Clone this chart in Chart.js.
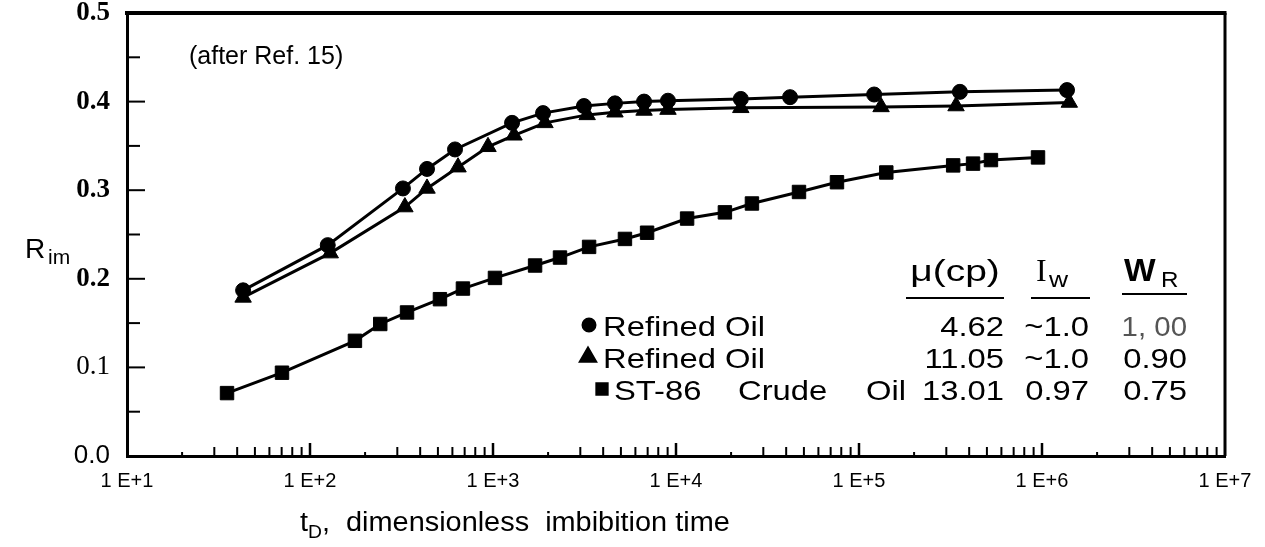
<!DOCTYPE html>
<html>
<head>
<meta charset="utf-8">
<script src="https://cdn.jsdelivr.net/npm/chart.js@4.4.1/dist/chart.umd.min.js"></script>
<style>
  html, body { margin: 0; padding: 0; background: #fff; }
  #wrap { width: 1265px; height: 547px; position: relative; }
</style>
</head>
<body>
<div id="wrap"><canvas id="chart" width="1265" height="547"></canvas></div>
<script>
// Refined oil, mu = 4.62 cp (circles)
const refinedA_t = [43.1, 125, 322, 436, 620, 1271, 1877, 3140, 4640, 6690, 9040, 22600, 42000, 121000, 356000, 1370000];
const refinedA_R = [0.187, 0.238, 0.302, 0.324, 0.346, 0.376, 0.387, 0.395, 0.398, 0.400, 0.401, 0.403, 0.405, 0.408, 0.411, 0.413];

// Refined oil, mu = 11.05 cp (triangles)
const refinedB_t = [43.1, 129, 330, 436, 644, 939, 1303, 1923, 3270, 4640, 6690, 9040, 22600, 132000, 339000, 1410000];
const refinedB_R = [0.179, 0.229, 0.281, 0.302, 0.326, 0.349, 0.362, 0.376, 0.385, 0.388, 0.390, 0.391, 0.393, 0.394, 0.395, 0.399];

// ST-86 crude oil, mu = 13.01 cp (squares)
const crude_t = [35.2, 70.3, 176, 242, 339, 513, 685, 1025, 1698, 2323, 3350, 5260, 6950, 11500, 18500, 26000, 47000, 75800, 141000, 327000, 420000, 526000, 951000];
const crude_R = [0.071, 0.094, 0.130, 0.149, 0.162, 0.177, 0.189, 0.201, 0.215, 0.224, 0.236, 0.245, 0.252, 0.268, 0.275, 0.285, 0.298, 0.309, 0.320, 0.328, 0.330, 0.334, 0.337];

// Axis ticks
const xTickValues = [1e1, 1e2, 1e3, 1e4, 1e5, 1e6, 1e7];
const xTickLabels = ['1 E+1', '1 E+2', '1 E+3', '1 E+4', '1 E+5', '1 E+6', '1 E+7'];
const yTickValues = [0.0, 0.1, 0.2, 0.3, 0.4, 0.5];
const yTickLabels = ['0.0', '0.1', '0.2', '0.3', '0.4', '0.5'];
const yMinorTicks = [0.05, 0.15, 0.25, 0.35, 0.45];

// Property table
const legendStyles = ['circle', 'triangle', 'rect'];
const legendWords = [['Refined Oil'], ['Refined Oil'], ['ST-86', 'Crude', 'Oil']];
const colViscosity = ['4.62', '11.05', '13.01'];
const colIw = ['~1.0', '~1.0', '0.97'];
const colWR = ['1, 00', '0.90', '0.75'];

const toPoints = (xs, ys) => xs.map((x, i) => ({ x: x, y: ys[i] }));

function drawText(ctx, s, x, y, font, align, sx) {
  ctx.save();
  ctx.font = font;
  ctx.textBaseline = 'alphabetic';
  ctx.textAlign = 'left';
  const w = ctx.measureText(s).width * (sx || 1);
  let x0 = x;
  if (align === 'right') x0 = x - w;
  else if (align === 'center') x0 = x - w / 2;
  ctx.translate(x0, y);
  ctx.scale(sx || 1, 1);
  ctx.fillText(s, 0, 0);
  ctx.restore();
  return w;
}

const framePlugin = {
  id: 'frame',
  afterDatasetsDraw(chart) {
    const { ctx, chartArea: a, scales } = chart;
    const xs = scales.x, ys = scales.y;
    ctx.save();
    ctx.strokeStyle = '#000';
    ctx.fillStyle = '#000';
    ctx.lineCap = 'butt';

    // top and right edges of the box
    ctx.lineWidth = 4;
    ctx.beginPath();
    ctx.moveTo(a.left - 2, a.top);
    ctx.lineTo(a.right + 1.5, a.top);
    ctx.stroke();
    ctx.lineWidth = 3;
    ctx.beginPath();
    ctx.moveTo(a.right, a.top);
    ctx.lineTo(a.right, a.bottom);
    ctx.stroke();

    // inward ticks on the y axis
    ctx.lineWidth = 2;
    yTickValues.forEach(v => {
      if (v <= 0 || v >= 0.5) return;
      const py = ys.getPixelForValue(v);
      ctx.beginPath(); ctx.moveTo(a.left, py); ctx.lineTo(a.left + 18, py); ctx.stroke();
    });
    yMinorTicks.forEach(v => {
      const py = ys.getPixelForValue(v);
      ctx.beginPath(); ctx.moveTo(a.left, py); ctx.lineTo(a.left + 13, py); ctx.stroke();
    });

    // inward ticks on the logarithmic x axis
    for (let d = 1e1; d < 1e7; d *= 10) {
      for (let k = 1; k <= 9; k++) {
        const v = d * k;
        if (v <= 10) continue;
        const px = xs.getPixelForValue(v);
        const len = k === 1 ? 13 : (k === 2 ? 4 : 9);
        ctx.lineWidth = k === 1 ? 2.5 : 2;
        ctx.beginPath(); ctx.moveTo(px, a.bottom); ctx.lineTo(px, a.bottom - len); ctx.stroke();
      }
    }

    // annotation
    drawText(ctx, '(after Ref. 15)', 189, 64, '25px "Liberation Sans"', 'left', 1.0);

    // property table header
    drawText(ctx, '\u03BC(cp)', 955, 281, '30px "Liberation Sans"', 'center', 1.3);
    drawText(ctx, 'I', 1036, 281, '32px "Liberation Serif"', 'left', 1.0);
    drawText(ctx, 'w', 1049, 287, '22px "Liberation Sans"', 'left', 1.2);
    drawText(ctx, 'W', 1124, 281, 'bold 31px "Liberation Sans"', 'left', 1.08);
    drawText(ctx, 'R', 1161, 287, '22px "Liberation Sans"', 'left', 1.1);
    ctx.lineWidth = 2;
    [[906, 1004, 298], [1031, 1090, 298], [1122, 1187, 294]].forEach(([x1, x2, y]) => {
      ctx.beginPath(); ctx.moveTo(x1, y); ctx.lineTo(x2, y); ctx.stroke();
    });

    // property table rows
    const rowY = [336, 368, 400];
    const rf = '28px "Liberation Sans"';
    const markX = [589, 588, 602];
    const markR = [6.5, 9.5, 8];
    const wordX = [[603], [603], [614, 738, 866]];
    for (let i = 0; i < 3; i++) {
      Chart.helpers.drawPoint(ctx, { pointStyle: legendStyles[i], radius: markR[i], borderWidth: 1, rotation: 0 }, markX[i], rowY[i] - 11);
      ctx.fill();
      legendWords[i].forEach((w, j) => drawText(ctx, w, wordX[i][j], rowY[i], rf, 'left', 1.17));
      drawText(ctx, colViscosity[i], 1004, rowY[i], rf, 'right', 1.17);
      drawText(ctx, colIw[i], 1089, rowY[i], rf, 'right', 1.17);
      ctx.fillStyle = i === 0 ? '#555' : '#000';
      drawText(ctx, colWR[i], 1187, rowY[i], i === 0 ? '28px "Liberation Sans Narrow", "Liberation Sans"' : rf, 'right', i === 0 ? 1.05 : 1.17);
      ctx.fillStyle = '#000';
    }

    // axis titles
    drawText(ctx, 'R', 25, 258, '28px "Liberation Sans"', 'left', 1.0);
    drawText(ctx, 'im', 48, 264, '21px "Liberation Sans"', 'left', 1.0);
    let tx = 300;
    tx += drawText(ctx, 't', tx, 531, '27px "Liberation Sans"', 'left', 1.07);
    tx += drawText(ctx, 'D', tx, 538, '18px "Liberation Sans"', 'left', 1.07);
    drawText(ctx, ',  dimensionless  imbibition time', tx, 531, '27px "Liberation Sans"', 'left', 1.07);
    ctx.restore();
  }
};

const lineStyle = { borderColor: '#000', backgroundColor: '#000', borderWidth: 3, pointBorderWidth: 1, pointBackgroundColor: '#000', pointBorderColor: '#000', tension: 0, fill: false, clip: false };

new Chart(document.getElementById('chart'), {
  type: 'line',
  data: {
    datasets: [
      Object.assign({ label: 'Refined Oil (4.62 cp)', data: toPoints(refinedA_t, refinedA_R), pointStyle: 'circle', pointRadius: 7.5 }, lineStyle),
      Object.assign({ label: 'Refined Oil (11.05 cp)', data: toPoints(refinedB_t, refinedB_R), pointStyle: 'triangle', pointRadius: 9.5 }, lineStyle),
      Object.assign({ label: 'ST-86 Crude Oil (13.01 cp)', data: toPoints(crude_t, crude_R), pointStyle: 'rect', pointRadius: 9.5 }, lineStyle)
    ]
  },
  options: {
    responsive: false,
    animation: false,
    devicePixelRatio: 1,
    layout: { padding: { top: 13, right: 40, left: 0, bottom: 0 } },
    plugins: { legend: { display: false }, tooltip: { enabled: false } },
    scales: {
      x: {
        type: 'logarithmic',
        min: 10, max: 1e7,
        afterBuildTicks: s => { s.ticks = xTickValues.map(v => ({ value: v })); },
        afterFit: s => { s.height = 91; s.paddingLeft = 0; s.paddingRight = 0; },
        ticks: {
          autoSkip: false, maxRotation: 0, padding: 13, color: '#000',
          font: { family: '"Liberation Sans"', size: 20 },
          callback: (v, i) => xTickLabels[i]
        },
        grid: { drawOnChartArea: false, drawTicks: false },
        border: { display: true, color: '#000', width: 3 }
      },
      y: {
        type: 'linear',
        min: 0, max: 0.5,
        afterBuildTicks: s => { s.ticks = yTickValues.map(v => ({ value: v })); },
        afterFit: s => { s.width = 127; s.paddingTop = 0; s.paddingBottom = 0; },
        ticks: {
          padding: 17, color: '#000',
          font: c => {
            if (c.index === 0) return { family: '"Liberation Sans"', size: 26 };
            if (c.index === 1) return { family: '"Liberation Serif"', size: 27 };
            return { family: '"Liberation Serif"', size: 27, weight: 'bold' };
          },
          callback: (v, i) => yTickLabels[i]
        },
        grid: { drawOnChartArea: false, drawTicks: false },
        border: { display: true, color: '#000', width: 3 }
      }
    }
  },
  plugins: [framePlugin]
});
</script>
</body>
</html>
